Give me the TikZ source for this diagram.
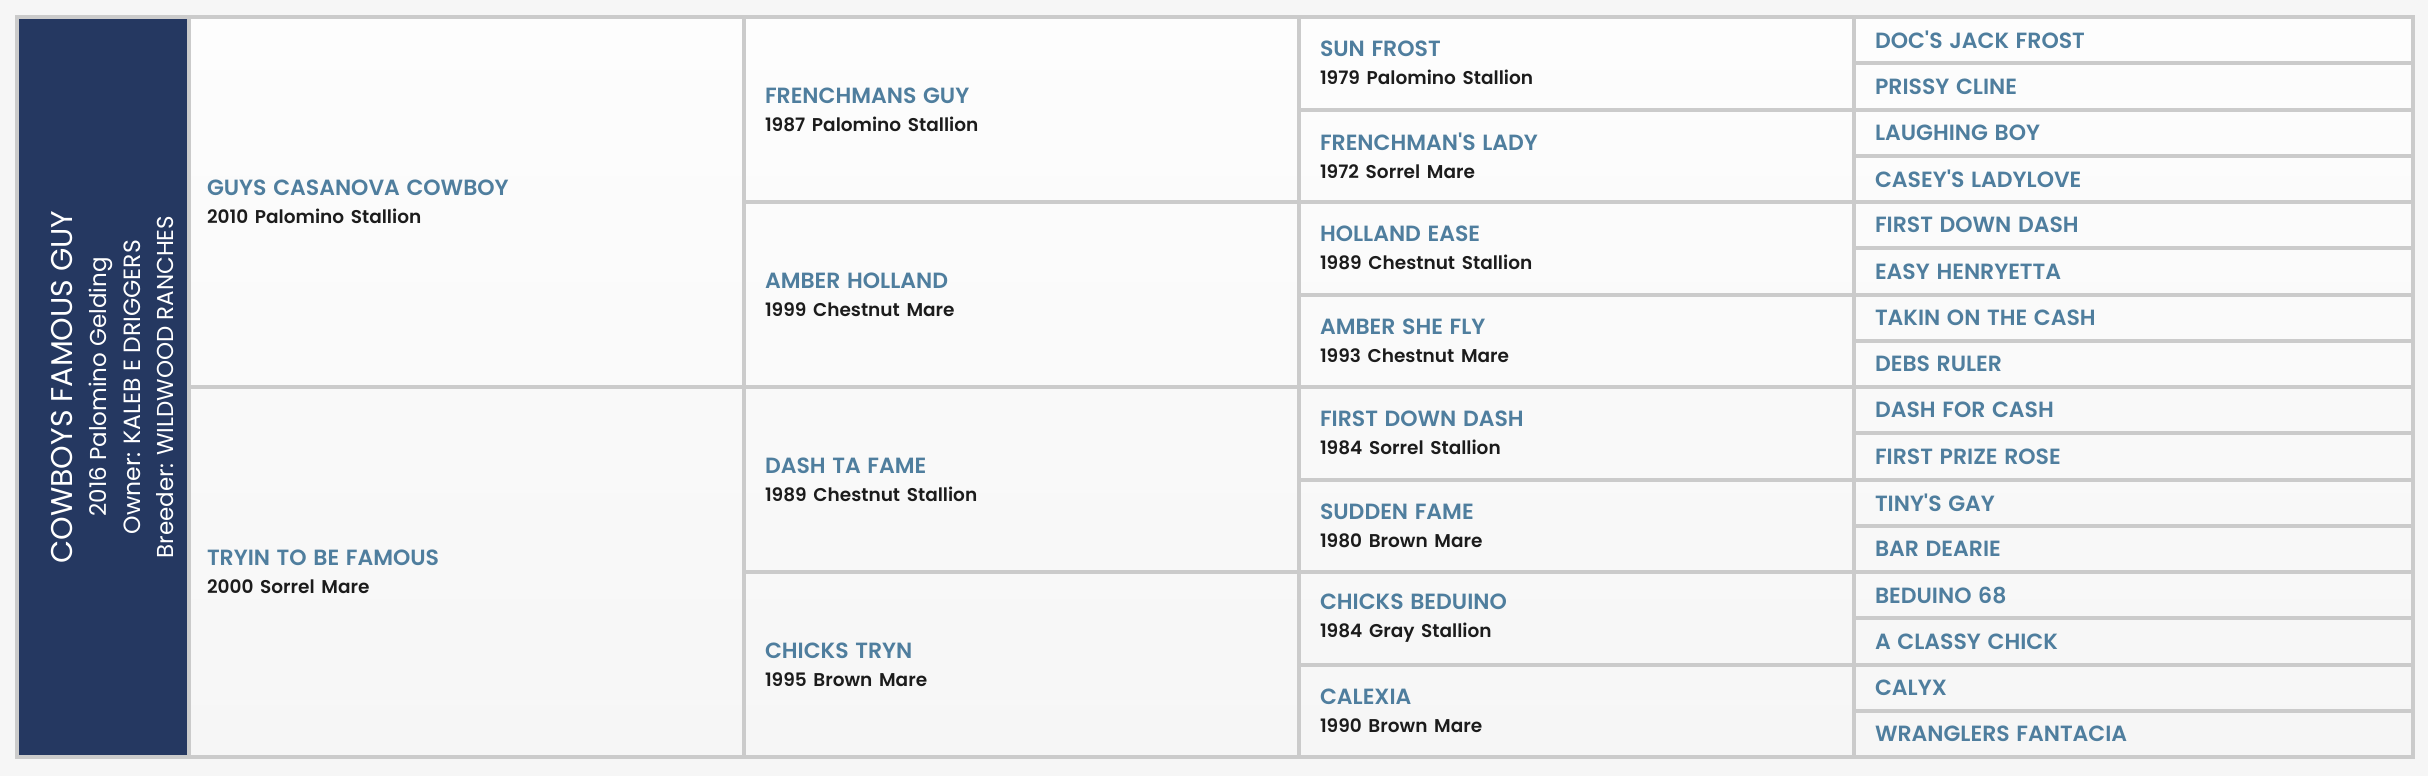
\documentclass[tikz,border=0pt]{standalone}
\usepackage{fontspec}
\setmainfont{Poppins}
\newfontfamily\namefam{Poppins SemiBold}
\newfontfamily\detfam{Poppins SemiBold}
\newfontfamily\horsefam{Poppins}
\definecolor{navy}{HTML}{253861}
\definecolor{nameblue}{HTML}{4F7E9E}
\definecolor{detailc}{HTML}{1C1C1C}
\definecolor{gridgray}{HTML}{CBCBCB}
\definecolor{pagebg}{HTML}{F6F6F6}
\definecolor{cellTop}{HTML}{FDFDFD}
\definecolor{cellBot}{HTML}{F6F6F6}
\newcommand\nm[1]{{\namefam\fontsize{22}{28}\selectfont\color{nameblue}#1}}
\newcommand\dt[1]{{\detfam\fontsize{18.5}{28}\selectfont\color{detailc}#1}}
\tikzset{
  cell/.style={draw=gridgray, line width=4pt, rectangle, inner sep=0pt, inner xsep=21pt,
    outer sep=0pt, anchor=north west, align=left, text width=513pt, minimum width=555pt,
    font=\fontsize{20}{28}\selectfont},
  firstcell/.style={cell, inner xsep=18pt, text width=519pt, minimum height=370pt},
  lastcell/.style={cell, text width=517pt, minimum width=559pt, minimum height=46.25pt},
  horseline/.style={rotate=90, anchor=base, text=white, inner sep=0pt},
}
\begin{document}
\begin{tikzpicture}[x=1pt,y=-1pt]
\fill[pagebg] (0,0) rectangle (2428,776);
\useasboundingbox (0,0) rectangle (2428,776);
\shade[top color=cellTop, bottom color=cellBot] (17,17) rectangle (2413,757);
% subject
\node[draw=gridgray, line width=4pt, fill=navy, minimum width=172pt, minimum height=740pt,
  anchor=north west, inner sep=0pt, outer sep=0pt] (horse) at (17,17) {};
\node[horseline, font=\horsefam\fontsize{30}{34}\selectfont] (hname) at (72,387) {COWBOYS FAMOUS GUY};
\node[horseline, font=\horsefam\fontsize{23}{34}\selectfont] (hdesc) at (106,387) {2016 Palomino Gelding};
\node[horseline, font=\horsefam\fontsize{23.5}{34}\selectfont] (howner) at (140,387) {Owner: KALEB E DRIGGERS};
\node[horseline, font=\horsefam\fontsize{23}{34}\selectfont] (hbreeder) at (173,387) {Breeder: WILDWOOD RANCHES};
% generation 1
\node[firstcell] (s) at (189,17) {\nm{GUYS CASANOVA COWBOY}\\\dt{2010 Palomino Stallion}};
\node[firstcell] (d) at (189,387) {\nm{TRYIN TO BE FAMOUS}\\\dt{2000 Sorrel Mare}};
% generation 2
\node[cell, minimum height=185pt] (ss) at (744,17) {\nm{FRENCHMANS GUY}\\\dt{1987 Palomino Stallion}};
\node[cell, minimum height=185pt] (sd) at (744,202) {\nm{AMBER HOLLAND}\\\dt{1999 Chestnut Mare}};
\node[cell, minimum height=185pt] (ds) at (744,387) {\nm{DASH TA FAME}\\\dt{1989 Chestnut Stallion}};
\node[cell, minimum height=185pt] (dd) at (744,572) {\nm{CHICKS TRYN}\\\dt{1995 Brown Mare}};
% generation 3
\node[cell, minimum height=92.5pt] (sss) at (1299,17) {\nm{SUN FROST}\\\dt{1979 Palomino Stallion}};
\node[cell, minimum height=92.5pt] (ssd) at (1299,109.5) {\nm{FRENCHMAN'S LADY}\\\dt{1972 Sorrel Mare}};
\node[cell, minimum height=92.5pt] (sds) at (1299,202) {\nm{HOLLAND EASE}\\\dt{1989 Chestnut Stallion}};
\node[cell, minimum height=92.5pt] (sdd) at (1299,294.5) {\nm{AMBER SHE FLY}\\\dt{1993 Chestnut Mare}};
\node[cell, minimum height=92.5pt] (dss) at (1299,387) {\nm{FIRST DOWN DASH}\\\dt{1984 Sorrel Stallion}};
\node[cell, minimum height=92.5pt] (dsd) at (1299,479.5) {\nm{SUDDEN FAME}\\\dt{1980 Brown Mare}};
\node[cell, minimum height=92.5pt] (dds) at (1299,572) {\nm{CHICKS BEDUINO}\\\dt{1984 Gray Stallion}};
\node[cell, minimum height=92.5pt] (ddd) at (1299,664.5) {\nm{CALEXIA}\\\dt{1990 Brown Mare}};
% generation 4
\foreach \nme [count=\i from 0] in {DOC'S JACK FROST, PRISSY CLINE, LAUGHING BOY, CASEY'S LADYLOVE,
  FIRST DOWN DASH, EASY HENRYETTA, TAKIN ON THE CASH, DEBS RULER, DASH FOR CASH, FIRST PRIZE ROSE,
  TINY'S GAY, BAR DEARIE, BEDUINO 68, A CLASSY CHICK, CALYX, WRANGLERS FANTACIA}
  \node[lastcell] (g4-\i) at (1854,{17+46.25*\i}) {\nm{\nme}};
\end{tikzpicture}
\end{document}
